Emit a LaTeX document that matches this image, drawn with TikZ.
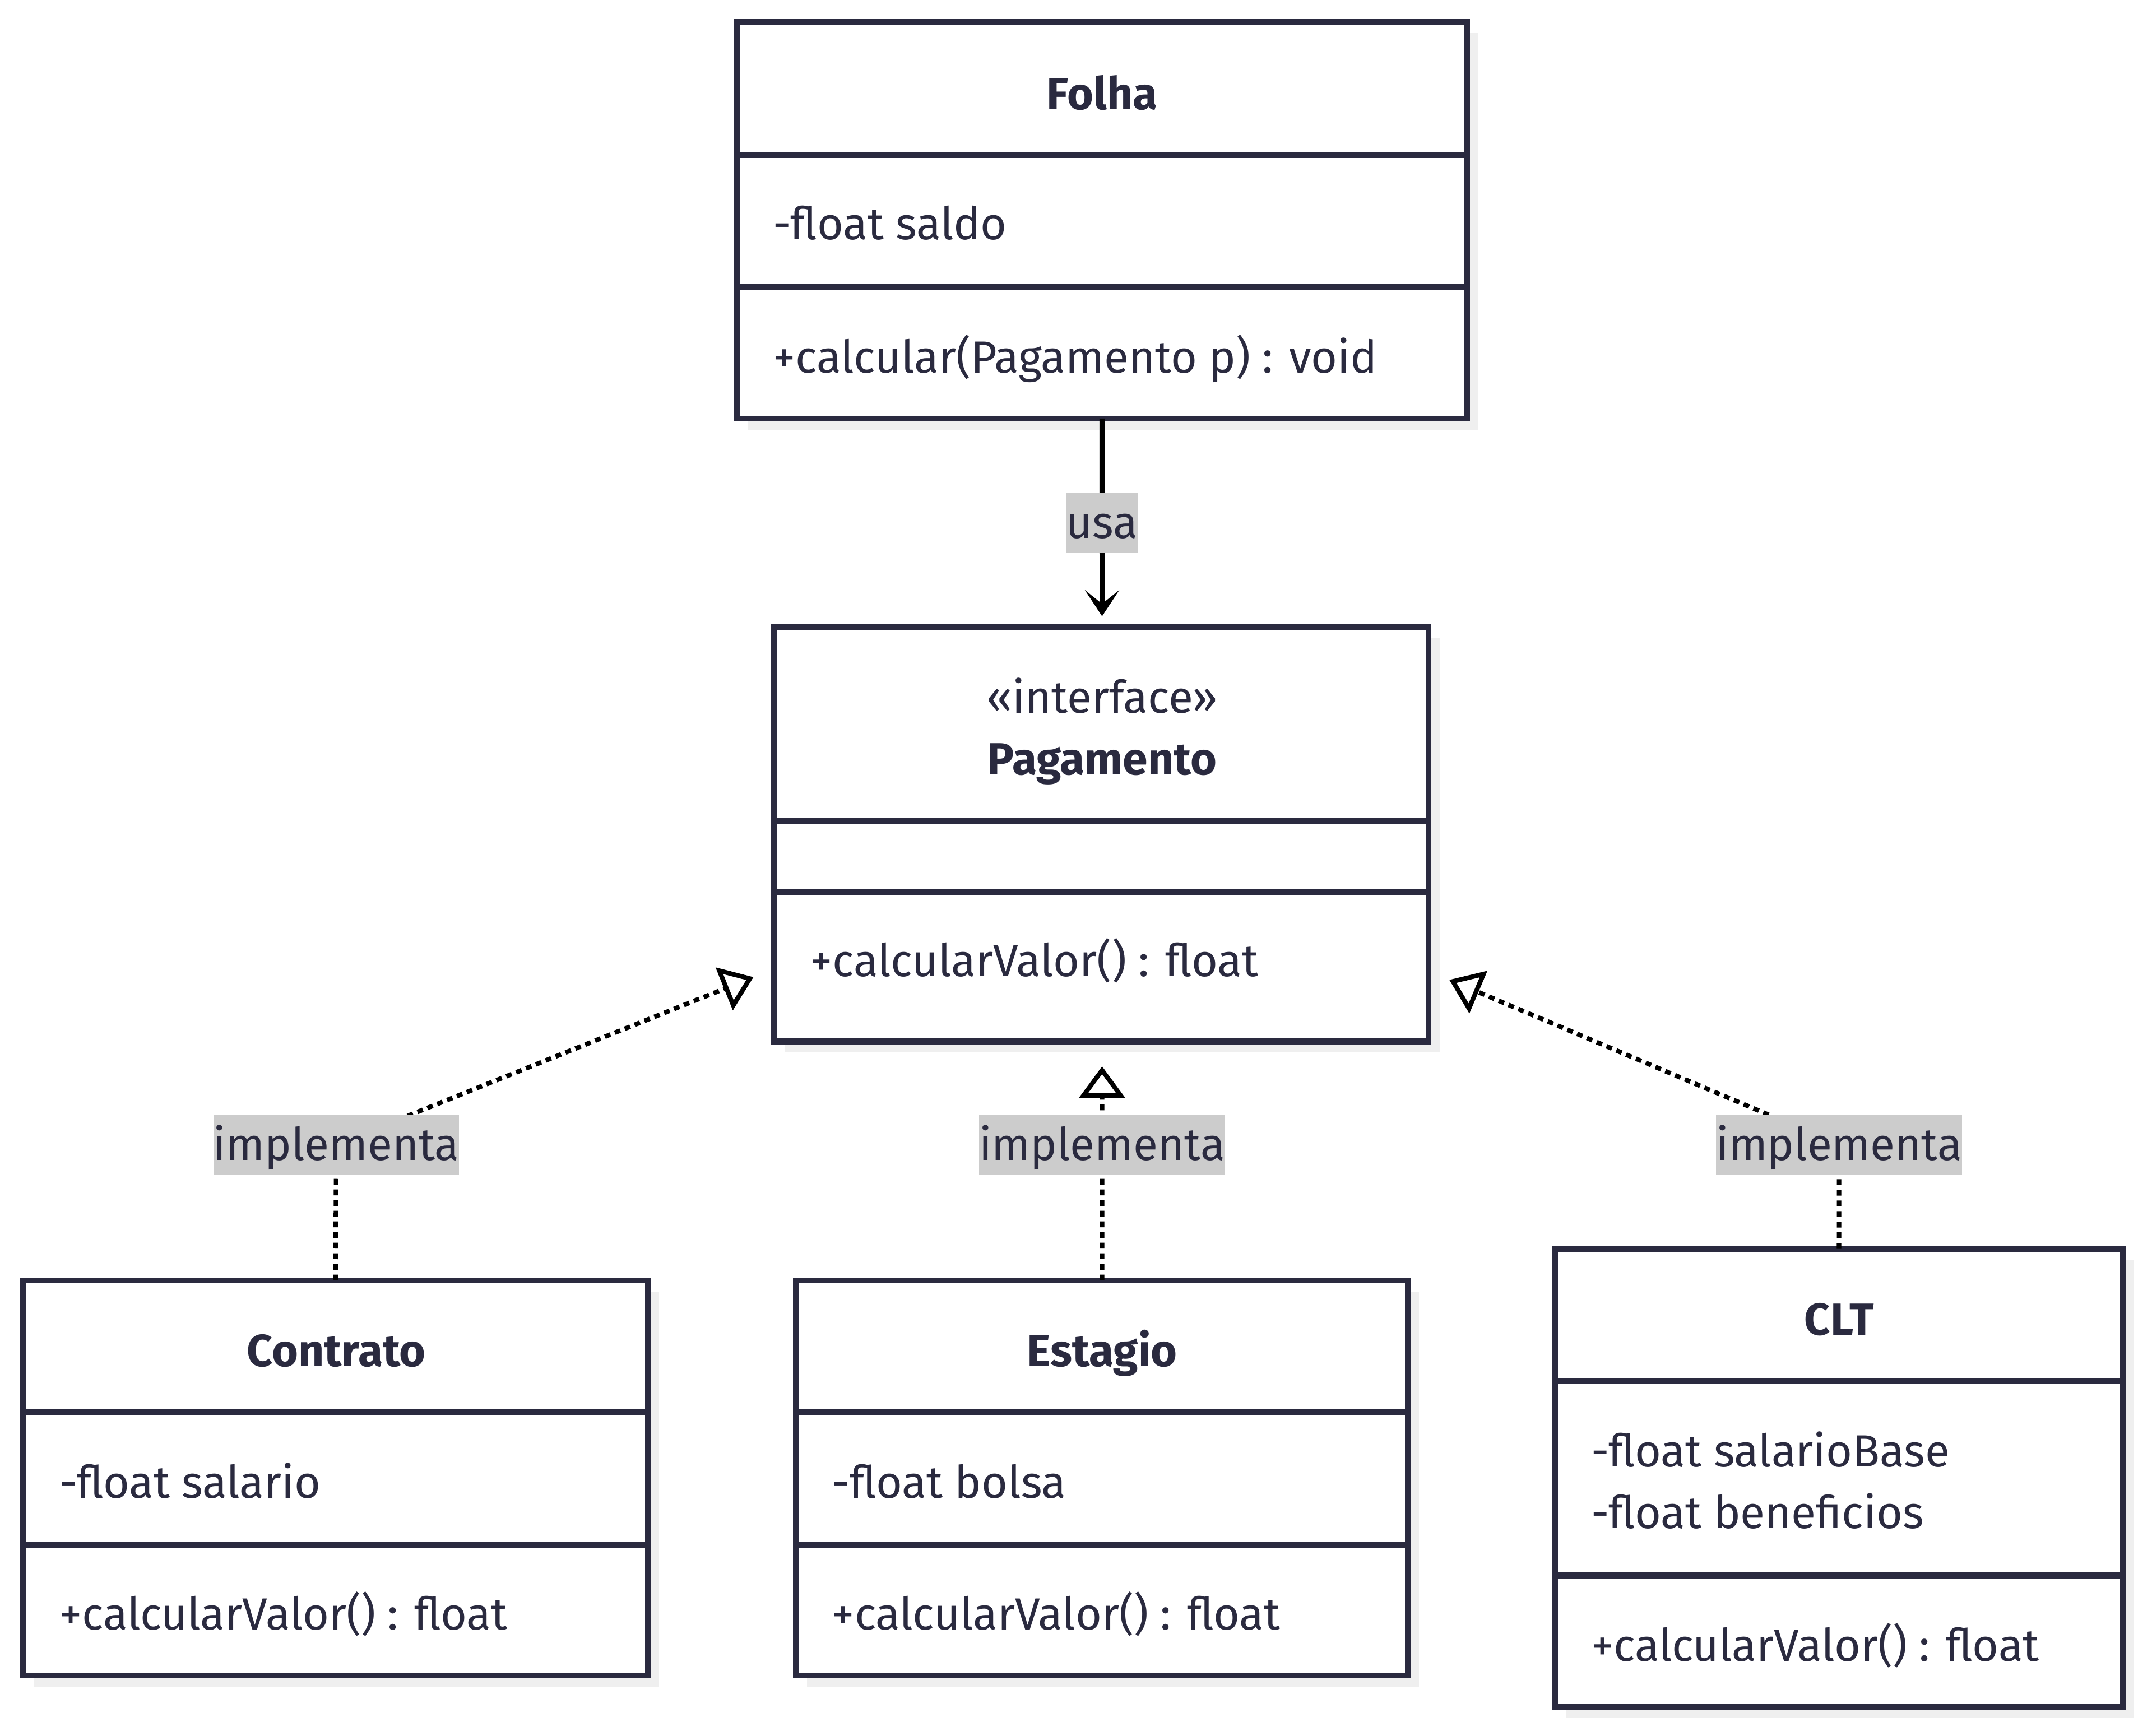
\documentclass[tikz,border=0pt]{standalone}
\usepackage{fontspec}
\setmainfont{Fira Sans}
\usetikzlibrary{arrows.meta}
\definecolor{ink}{HTML}{2A2A3F}
\definecolor{lblfill}{HTML}{CCCCCC}
\definecolor{shadowc}{HTML}{EFEFEF}
\newcommand\dfs{\fontsize{18.7pt}{23pt}\selectfont}
\tikzset{
  classbox/.style={draw=ink, line width=2.4pt, fill=white, rectangle, inner sep=0pt, outer sep=0pt, anchor=north west},
  divider/.style={draw=ink, line width=2.4pt},
  shad/.style={fill=shadowc},
  title/.style={font=\dfs\bfseries, text=ink, inner sep=0pt, text height=15.7pt, text depth=2.4pt},
  member/.style={font=\dfs, text=ink, inner sep=0pt, anchor=west, text height=15.7pt, text depth=2.4pt},
  lbl/.style={font=\dfs, text=ink, fill=lblfill, inner xsep=0pt, inner ysep=0pt, minimum height=0.88cm, text height=13.8pt, text depth=1pt},
  uses/.style={draw=black, line width=2.1pt, -{Stealth[length=0.38cm, width=0.5cm, inset=0.2cm]}},
  impl/.style={draw=black, line width=1.9pt, dash pattern=on 0.085cm off 0.07cm, -{Triangle[open, length=0.46cm, width=0.66cm, line width=1.9pt]}},
}
\begin{document}
\begin{tikzpicture}[x=0.02cm, y=-0.02cm]
\useasboundingbox (0,0) rectangle (1568,1265);
% shadows
\fill[shad] (545,24) rectangle (1077,313);
\fill[shad] (572,465) rectangle (1049,767);
\fill[shad] (25,941) rectangle (480,1229);
\fill[shad] (588,941) rectangle (1034,1229);
\fill[shad] (1141,918) rectangle (1555,1252);
% Folha
\node[classbox, minimum width=10.64cm, minimum height=5.78cm] (folha) at (537,16) {};
\draw[divider] (537,113) -- (1069,113);
\draw[divider] (537,209) -- (1069,209);
\node[title] (folhaT) at (803,68) {Folha};
\node[member] (folhaA) at (563,163) {-float saldo};
\node[member] (folhaM) at (563,260) {+calcular(Pagamento p) : void};
% Pagamento
\node[classbox, minimum width=9.54cm, minimum height=6.04cm] (pag) at (564,457) {};
\draw[divider] (564,598) -- (1041,598);
\draw[divider] (564,650) -- (1041,650);
\node[member, anchor=center] (pagS) at (803,508) {«interface»};
\node[title] (pagT) at (803,553) {Pagamento};
\node[member] (pagM) at (590,700) {+calcularValor() : float};
% Contrato
\node[classbox, minimum width=9.10cm, minimum height=5.76cm] (contrato) at (17,933) {};
\draw[divider] (17,1029) -- (472,1029);
\draw[divider] (17,1126) -- (472,1126);
\node[title] (contratoT) at (245,984) {Contrato};
\node[member] (contratoA) at (43,1080) {-float salario};
\node[member] (contratoM) at (43,1176) {+calcularValor() : float};
% Estagio
\node[classbox, minimum width=8.92cm, minimum height=5.76cm] (estagio) at (580,933) {};
\draw[divider] (580,1029) -- (1026,1029);
\draw[divider] (580,1126) -- (1026,1126);
\node[title] (estagioT) at (803,984) {Estagio};
\node[member] (estagioA) at (606,1080) {-float bolsa};
\node[member] (estagioM) at (606,1176) {+calcularValor() : float};
% CLT
\node[classbox, minimum width=8.28cm, minimum height=6.68cm] (clt) at (1133,910) {};
\draw[divider] (1133,1006) -- (1547,1006);
\draw[divider] (1133,1148) -- (1547,1148);
\node[title] (cltT) at (1340,961) {CLT};
\node[member] (cltA1) at (1159,1057) {-float salarioBase};
\node[member] (cltA2) at (1159,1102) {-float beneficios};
\node[member] (cltM) at (1159,1199) {+calcularValor() : float};
% connectors
\coordinate (usaTip) at (803,449);
\coordinate (usaC) at (803,381);
\draw[uses] (folha.south) -- (usaTip);
\node[lbl] (usaL) at (usaC) {usa};

\coordinate (tipL) at (549,712);
\coordinate (cC) at (245,834);
\draw[impl] (contrato.north) -- (cC) -- (tipL);
\node[lbl] (lblC) at (cC) {implementa};

\coordinate (tipM) at (803,777);
\coordinate (cE) at (803,834);
\draw[impl] (estagio.north) -- (tipM);
\node[lbl] (lblE) at (cE) {implementa};

\coordinate (tipR) at (1056,714);
\coordinate (cT) at (1340,834);
\draw[impl] (clt.north) -- (cT) -- (tipR);
\node[lbl] (lblT) at (cT) {implementa};
\end{tikzpicture}
\end{document}
